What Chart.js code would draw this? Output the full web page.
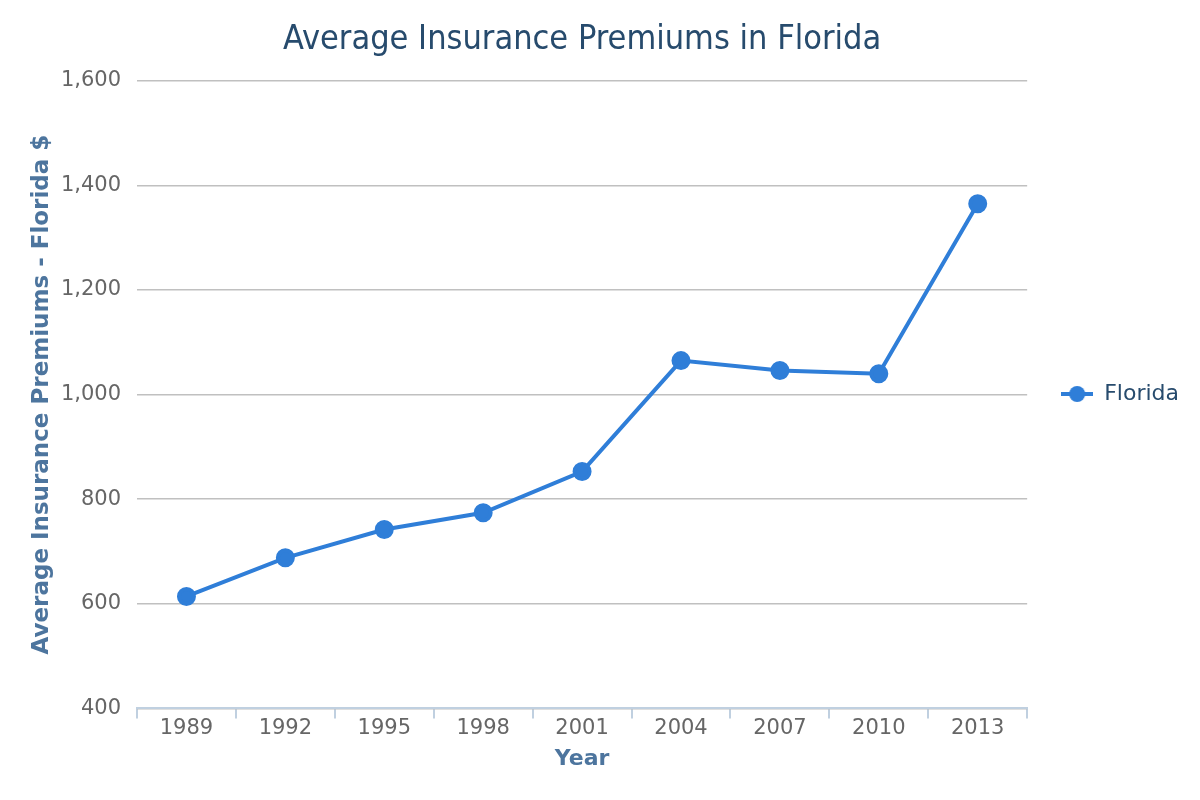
<!DOCTYPE html>
<html>
<head>
<meta charset="utf-8">
<script src="https://cdn.jsdelivr.net/npm/chart.js@4"></script>
<style>
  html, body { margin: 0; padding: 0; background: #fff; }
  #wrap { width: 1200px; height: 800px; }
</style>
</head>
<body>
<div id="wrap"><canvas id="premium-chart"></canvas></div>
<script>
// Dados do gráfico
const years = ['1989', '1992', '1995', '1998', '2001', '2004', '2007', '2010', '2013'];
const floridaPremiums = [614, 688, 742, 774, 853, 1065, 1046, 1040, 1365];
const seriesName = 'Florida';

const lineColor = '#2f7ed8';

// Marcador da legenda: linha com círculo
const legendMarker = document.createElement('canvas');
legendMarker.width = 32;
legendMarker.height = 18;
const mctx = legendMarker.getContext('2d');
mctx.strokeStyle = lineColor;
mctx.lineWidth = 4;
mctx.beginPath();
mctx.moveTo(0, 9);
mctx.lineTo(32, 9);
mctx.stroke();
mctx.fillStyle = lineColor;
mctx.beginPath();
mctx.arc(16, 9, 8, 0, Math.PI * 2);
mctx.fill();

const premiumData = {
  labels: years,
  datasets: [{
    label: seriesName,
    data: floridaPremiums,
    borderColor: lineColor,
    backgroundColor: lineColor,
    borderWidth: 4,
    pointRadius: 7.5,
    pointHoverRadius: 7.5,
    pointStyle: 'circle',
    fill: false,
    tension: 0
  }]
};

const premiumConfig = {
  type: 'line',
  data: premiumData,
  options: {
    responsive: true,
    maintainAspectRatio: false,
    animation: false,
    layout: {
      padding: { left: 24, right: 11, top: 12, bottom: 24 }
    },
    plugins: {
      title: {
        display: true,
        fullSize: false,
        text: 'Average Insurance Premiums in Florida',
        color: '#274b6d',
        font: { family: 'DejaVu Sans Condensed', size: 34, weight: 'normal' },
        padding: { top: 8, bottom: 20 }
      },
      legend: {
        position: 'right',
        labels: {
          usePointStyle: true,
          pointStyle: legendMarker,
          pointStyleWidth: 32,
          color: '#274b6d',
          font: { family: 'DejaVu Sans', size: 22 },
          padding: 34
        }
      },
      tooltip: { enabled: false }
    },
    scales: {
      x: {
        offset: true,
        border: { display: true, color: '#c0d0e0', width: 2 },
        grid: {
          offset: true,
          drawOnChartArea: false,
          drawTicks: true,
          tickLength: 10,
          color: '#c0d0e0',
          lineWidth: 2
        },
        ticks: {
          color: '#666666',
          font: { family: 'DejaVu Sans', size: 21 },
          padding: -2,
          maxRotation: 0
        },
        title: {
          display: true,
          text: 'Year',
          color: '#4d759e',
          font: { family: 'DejaVu Sans', size: 22, weight: 'bold' },
          padding: { top: 6 }
        }
      },
      y: {
        min: 400,
        max: 1600,
        border: { display: false },
        grid: {
          color: '#c0c0c0',
          lineWidth: 1.5,
          drawTicks: false
        },
        ticks: {
          stepSize: 200,
          color: '#666666',
          font: { family: 'DejaVu Sans', size: 21 },
          padding: 16,
          callback: v => v.toLocaleString('en-US')
        },
        title: {
          display: true,
          text: 'Average Insurance Premiums - Florida $',
          color: '#4d759e',
          font: { family: 'DejaVu Sans', size: 23, weight: 'bold' },
          padding: { bottom: 14 }
        },
        afterFit: scale => { scale.width = 113; }
      }
    }
  }
};

const premiumChart = new Chart(
  document.getElementById('premium-chart'),
  premiumConfig
);
</script>
</body>
</html>
